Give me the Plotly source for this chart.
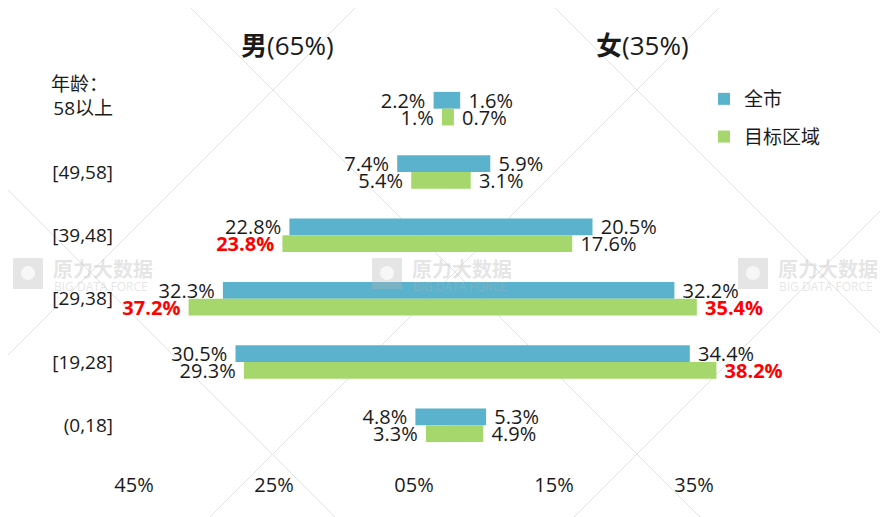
import plotly.graph_objects as go

# ---------------- data ----------------
age_groups = ["58以上", "[49,58]", "[39,48]", "[29,38]", "[19,28]", "(0,18]"]
male_city = [2.2, 7.4, 22.8, 32.3, 30.5, 4.8]
male_target = [1.0, 5.4, 23.8, 37.2, 29.3, 3.3]
female_city = [1.6, 5.9, 20.5, 32.2, 34.4, 5.3]
female_target = [0.7, 3.1, 17.6, 35.4, 38.2, 4.9]
male_city_labels = ["2.2%", "7.4%", "22.8%", "32.3%", "30.5%", "4.8%"]
male_target_labels = ["1.%", "5.4%", "23.8%", "37.2%", "29.3%", "3.3%"]
female_city_labels = ["1.6%", "5.9%", "20.5%", "32.2%", "34.4%", "5.3%"]
female_target_labels = ["0.7%", "3.1%", "17.6%", "35.4%", "38.2%", "4.9%"]
male_target_highlight = [False, False, True, True, False, False]
female_target_highlight = [False, False, False, True, True, False]
series_names = ["全市", "目标区域"]
tick_values = [-45, -25, -5, 15, 35]
tick_labels = ["45%", "25%", "05%", "15%", "35%"]
titles = ["<b>男</b>(65%)", "<b>女</b>(35%)"]

# ---------------- style ----------------
OFF = 8                      # default body margin of the html page
W, H = 888 - OFF, 517 - OFF  # figure size
L, R, T, B = 118 - OFF, 89, 77 - OFF, 60
PW, PH = W - L - R, H - T - B
X0 = 449                     # x of the zero line in screen pixels
SCALE = 7.0                  # pixels per percent
FONT = "Open Sans, Noto Sans CJK SC, sans-serif"
BLUE = "#5bb2cc"
GREEN = "#a5d76c"
TXT = "#1a1a1a"
RED = "#ff0000"
NB = "\u00a0"


def px(x):  # screen pixel -> paper x
    return (x - OFF - L) / PW


def py(y):  # screen pixel -> paper y
    return (H - B - (y - OFF)) / PH


def fmt(labels, hl, side):
    out = []
    for t, h in zip(labels, hl):
        s = f"<b>{t}</b>" if h else t
        out.append(s + NB if side == "left" else NB + s)
    return out


def colors(hl):
    return [RED if h else TXT for h in hl]


no_hl = [False] * len(age_groups)

fig = go.Figure()


def add(values, labels, hl, color, name, group, show, side):
    fig.add_trace(go.Bar(
        y=age_groups, x=values, orientation="h", name=name,
        offsetgroup=group, legendgroup=group, showlegend=show,
        marker=dict(color=color, line=dict(width=0)),
        text=fmt(labels, hl, side), textposition="outside", cliponaxis=False,
        constraintext="none",
        textfont=dict(family=FONT, size=20, color=colors(hl)),
        hoverinfo="skip",
    ))


add([-v for v in male_city], male_city_labels, no_hl, BLUE, series_names[0], "a", True, "left")
add([-v for v in male_target], male_target_labels, male_target_highlight, GREEN, series_names[1], "b", True, "left")
add(female_city, female_city_labels, no_hl, BLUE, series_names[0], "a", False, "right")
add(female_target, female_target_labels, female_target_highlight, GREEN, series_names[1], "b", False, "right")

axis_pos = (X0 - OFF - L) / PW
boundaries = [i - 0.5 for i in range(len(age_groups) + 1)]

fig.update_layout(
    width=W, height=H,
    margin=dict(l=L, r=R, t=T, b=B, pad=0),
    paper_bgcolor="white", plot_bgcolor="rgba(0,0,0,0)",
    barmode="group", bargap=0.47, bargroupgap=0,
    font=dict(family=FONT, size=19, color=TXT),
    xaxis=dict(
        range=[-(X0 - OFF - L) / SCALE, (W - R - (X0 - OFF)) / SCALE],
        tickvals=tick_values, ticktext=tick_labels,
        showgrid=False, zeroline=False, showline=False, ticks="",
        tickfont=dict(size=20, color=TXT), ticklabelstandoff=14,
        fixedrange=True,
    ),
    yaxis=dict(
        type="category", categoryarray=age_groups, categoryorder="array",
        range=[len(age_groups) - 0.5, -0.5],
        showgrid=False, zeroline=False, showline=False, ticks="",
        tickfont=dict(size=19, color=TXT), ticklabelstandoff=4,
    ),
    yaxis2=dict(
        overlaying="y", anchor="free", position=axis_pos, side="left",
        range=[len(age_groups) - 0.5, -0.5], tickvals=boundaries,
        ticks="outside", ticklen=7, tickcolor="#7f7f7f", tickwidth=1,
        showline=True, linecolor="#7f7f7f", linewidth=1,
        showticklabels=False, showgrid=False, zeroline=False,
        layer="above traces",
    ),
    yaxis3=dict(
        overlaying="y", anchor="free", position=axis_pos, side="right",
        range=[len(age_groups) - 0.5, -0.5], tickvals=boundaries,
        ticks="outside", ticklen=7, tickcolor="#7f7f7f", tickwidth=1,
        showline=False, layer="above traces",
        showticklabels=False, showgrid=False, zeroline=False,
    ),
    legend=dict(
        x=px(704), y=py(80), xanchor="left", yanchor="top",
        font=dict(size=19, color=TXT), bgcolor="rgba(0,0,0,0)",
        tracegroupgap=10, itemwidth=30, traceorder="grouped",
    ),
    showlegend=True,
)

# titles
fig.add_annotation(x=px(287), y=py(45), xref="paper", yref="paper", text=titles[0],
                   xanchor="center", yanchor="middle",
                   showarrow=False, font=dict(size=26, color=TXT))
fig.add_annotation(x=px(642), y=py(45), xref="paper", yref="paper", text=titles[1],
                   xanchor="center", yanchor="middle",
                   showarrow=False, font=dict(size=26, color=TXT))
# age header
fig.add_annotation(x=px(49), y=age_groups[0], xref="paper", yref="y", yshift=25,
                   xanchor="left", yanchor="middle", text="年龄：", showarrow=False,
                   font=dict(size=19, color=TXT))

# watermark diagonal lines
diag = [((0, 363), (363, 0)), ((210, 517), (727, 0)), ((574, 517), (888, 203)),
        ((0, 182), (335, 517)), ((183, 0), (700, 517)), ((547, 0), (888, 341))]
for (xa, ya), (xb, yb) in diag:
    fig.add_shape(type="line", xref="paper", yref="paper",
                  x0=px(xa), y0=py(ya), x1=px(xb), y1=py(yb),
                  line=dict(color="#e2e2e2", width=1), layer="below")

# watermark logos
WM = "rgba(180,180,180,0.35)"
for sx in (13, 372, 738):
    fig.add_shape(type="rect", xref="paper", yref="paper",
                  x0=px(sx), x1=px(sx + 30), y0=py(289), y1=py(258),
                  fillcolor=WM, line=dict(width=0), layer="above")
    fig.add_shape(type="circle", xref="paper", yref="paper",
                  x0=px(sx + 8), x1=px(sx + 22), y0=py(280), y1=py(266),
                  fillcolor="rgba(255,255,255,0.7)", line=dict(width=0), layer="above")
    fig.add_annotation(x=px(sx + 38), y=py(268), xref="paper", yref="paper",
                       xanchor="left", yanchor="middle", text="<b>原力大数据</b>",
                       showarrow=False,
                       font=dict(size=20, color=WM, family="Noto Sans CJK SC"))
    fig.add_annotation(x=px(sx + 39), y=py(286), xref="paper", yref="paper",
                       xanchor="left", yanchor="middle", text="BIG DATA FORCE",
                       showarrow=False,
                       font=dict(size=12, color=WM, family=FONT))

fig.write_html("out.html")
